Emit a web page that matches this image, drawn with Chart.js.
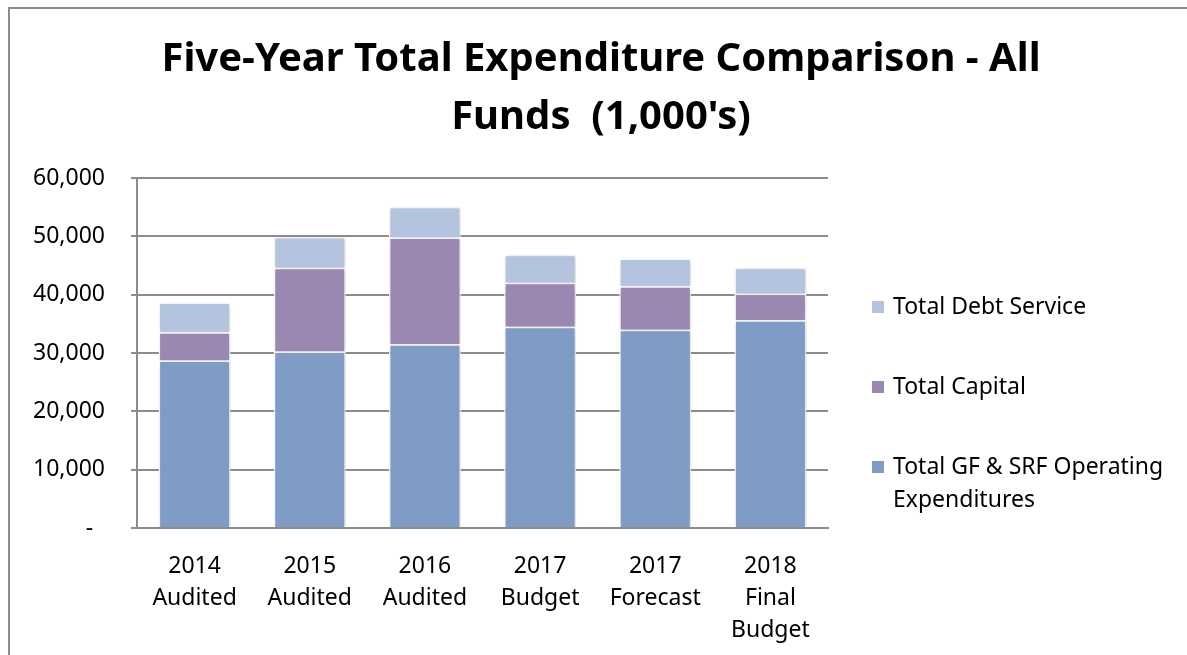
<!DOCTYPE html>
<html>
<head>
<meta charset="utf-8">
<script src="https://cdn.jsdelivr.net/npm/chart.js@4.4.0/dist/chart.umd.min.js"></script>
<style>
  html, body { margin: 0; padding: 0; background: #fff; overflow: hidden; }
  #frame { position: absolute; left: 8px; top: 7px; width: 1200px; height: 700px;
           border-left: 2px solid #8c8c8c; border-top: 2px solid #8c8c8c; }
  #chart { position: absolute; left: 0; top: 0; }
</style>
</head>
<body>
<div id="frame"></div>
<canvas id="chart" width="1187" height="655"></canvas>
<script>
const categories = [
  ["2014", "Audited"],
  ["2015", "Audited"],
  ["2016", "Audited"],
  ["2017", "Budget"],
  ["2017", "Forecast"],
  ["2018", "Final", "Budget"]
];
const operating = [28700, 30250, 31500, 34500, 34000, 35600];
const capital = [4850, 14350, 18300, 7550, 7450, 4550];
const debtService = [5100, 5300, 5250, 4800, 4750, 4450];
const yTicks = [0, 10000, 20000, 30000, 40000, 50000, 60000];
const titleLines = ["Five-Year Total Expenditure Comparison - All", "Funds  (1,000's)"];

const FONT = "'Noto Sans', 'Open Sans', sans-serif";

// title and legend drawn by hand so they sit where the original has them
const sideLegend = {
  id: "sideLegend",
  afterDraw(chart) {
    const ctx = chart.ctx;
    ctx.save();
    ctx.fillStyle = "#000";
    ctx.textAlign = "center";
    ctx.textBaseline = "middle";
    ctx.font = "bold 40px " + FONT;
    titleLines.forEach((line, i) => ctx.fillText(line, 601, 60 + i * 58));

    const items = [
      { ds: 2, lines: ["Total Debt Service"], y: 307 },
      { ds: 1, lines: ["Total Capital"], y: 387 },
      { ds: 0, lines: ["Total GF & SRF Operating", "Expenditures"], y: 467 }
    ];
    ctx.font = "23px " + FONT;
    ctx.textAlign = "left";
    items.forEach(it => {
      ctx.fillStyle = chart.data.datasets[it.ds].backgroundColor;
      ctx.fillRect(872, it.y - 6, 12, 12);
      ctx.fillStyle = "#000";
      it.lines.forEach((line, i) => ctx.fillText(line, 893, it.y + i * 33));
    });
    ctx.restore();
  }
};

const barShadow = {
  id: "barShadow",
  beforeDatasetsDraw(chart) {
    const ctx = chart.ctx;
    ctx.save();
    ctx.shadowColor = "rgba(0,0,0,0.22)";
    ctx.shadowBlur = 5;
    ctx.shadowOffsetX = 1;
    ctx.shadowOffsetY = 1;
  },
  afterDatasetsDraw(chart) {
    chart.ctx.restore();
  }
};

new Chart(document.getElementById("chart"), {
  type: "bar",
  data: {
    labels: categories,
    datasets: [
      { label: "Total GF & SRF Operating Expenditures", data: operating,
        backgroundColor: "#7f9cc7", borderColor: "#ffffff", borderWidth: 1.5 },
      { label: "Total Capital", data: capital,
        backgroundColor: "#9b88b2", borderColor: "#ffffff", borderWidth: 1.5 },
      { label: "Total Debt Service", data: debtService,
        backgroundColor: "#b4c3de", borderColor: "#ffffff", borderWidth: 1.5 }
    ]
  },
  options: {
    responsive: false,
    animation: false,
    layout: { padding: { left: 10, right: 359, top: 178, bottom: 0 } },
    datasets: { bar: { categoryPercentage: 1, barPercentage: 0.625 } },
    scales: {
      x: {
        stacked: true,
        grid: { display: false },
        border: { color: "#8c8c8c", width: 2 },
        ticks: { color: "#000", font: { family: FONT, size: 23, lineHeight: 1.4 }, padding: 14, maxRotation: 0 },
        afterFit: s => { s.height = 127; }
      },
      y: {
        stacked: true,
        min: 0,
        max: 60000,
        afterBuildTicks: s => { s.ticks = yTicks.map(v => ({ value: v })); },
        grid: { color: "#8c8c8c", lineWidth: 2, tickLength: 6 },
        border: { color: "#8c8c8c", width: 2 },
        ticks: {
          color: "#000",
          padding: 26,
          font: { family: FONT, size: 23 },
          callback: v => v === 0 ? "-  " : v.toLocaleString("en-US")
        },
        afterFit: s => { s.width = 127; }
      }
    },
    plugins: {
      legend: { display: false },
      tooltip: { enabled: false },
      title: { display: false }
    }
  },
  plugins: [barShadow, sideLegend]
});
</script>
</body>
</html>
